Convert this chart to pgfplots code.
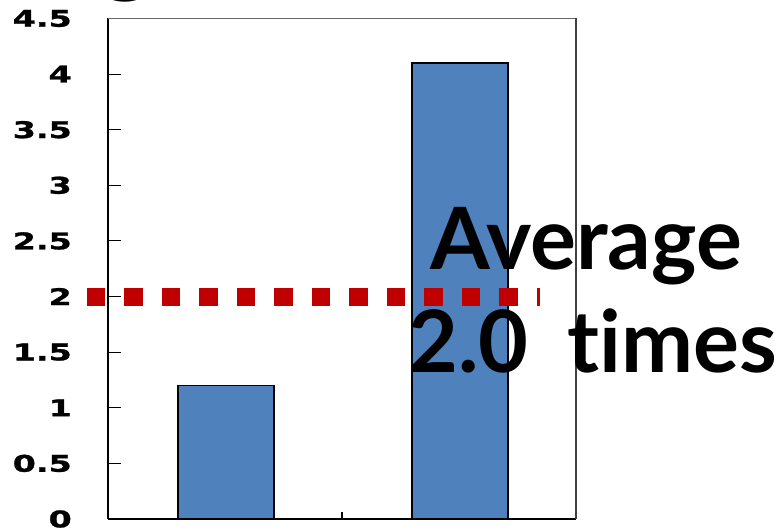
\documentclass[border=0pt]{standalone}
\usepackage{pgfplots}
\pgfplotsset{compat=1.18}
\usepackage{fontspec}
\newfontfamily\tickfont{DejaVu Sans}[FakeStretch=1.45, FakeBold=1.2]
\newfontfamily\bigfont{Lato}[Ligatures=NoCommon]
\definecolor{barblue}{RGB}{79,129,189}
\definecolor{avgred}{RGB}{192,0,0}

\begin{document}
\begin{tikzpicture}
  \useasboundingbox (0,0) rectangle (778pt,532pt);
  \begin{axis}[
    at={(108pt,13pt)}, anchor=south west,
    scale only axis,
    width=468pt, height=500.5pt,
    xmin=0, xmax=2,
    ymin=0, ymax=4.5,
    ytick={0,0.5,...,4.5},
    xtick=\empty,
    axis lines*=left,
    axis line style={-},
    x axis line style={line width=1.5pt},
    y axis line style={line width=2pt},
    tick align=inside,
    ytick pos=left,
    major tick length=13pt,
    every tick/.style={black, line width=1pt},
    /pgf/number format/assume math mode=true,
    yticklabel style={font=\tickfont\bfseries\fontsize{23}{23}\selectfont,
      anchor=east, inner sep=0pt, xshift=-36pt},
    clip=false,
  ]
  % bars
  \addplot[ybar, bar width=96pt, fill=barblue, draw=black, line width=1.5pt]
    coordinates {(0.504,1.2) (1.504,4.1)};
  % frame top and right
  \draw[gray!80!black, line width=1pt] (rel axis cs:0,1) -- (rel axis cs:1,1);
  \draw[black!75, line width=1.5pt] (rel axis cs:1,1) -- (rel axis cs:1,0);
  % single x tick between the categories
  \draw[black, line width=1.5pt] (axis cs:1,0) -- ++(0pt,7pt);
  % average line
  \addplot[avgred, line width=18pt, line cap=butt,
    dash pattern=on 18.5pt off 19pt]
    coordinates {(-0.091,2) (1.846,2)};
  \end{axis}
  \node[anchor=base west, inner sep=0pt, font=\bigfont\bfseries\fontsize{86}{86}\selectfont]
    at (430pt,262pt) {Average};
  \node[anchor=base west, inner sep=0pt, font=\bigfont\bfseries\fontsize{86}{86}\selectfont]
    at (408pt,159pt) {2.0\hspace{18pt} times};
  \node[anchor=base, inner sep=0pt, font=\bigfont\bfseries\fontsize{86}{86}\selectfont]
    at (120pt,530pt) {G};
\end{tikzpicture}
\end{document}
